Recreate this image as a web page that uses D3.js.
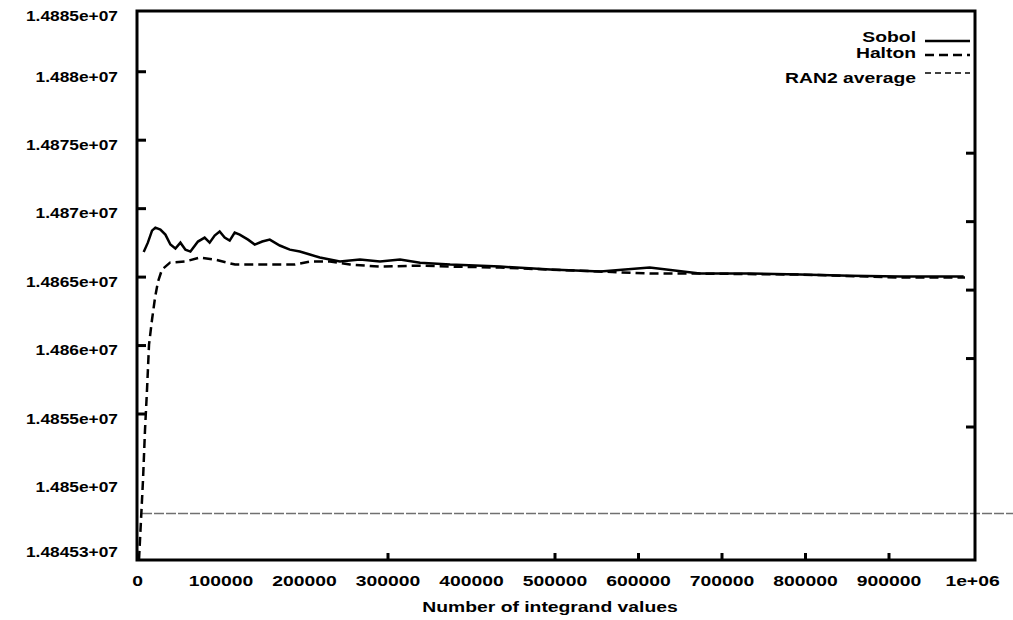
<!DOCTYPE html>
<html>
<head>
<meta charset="utf-8">
<script src="https://cdn.jsdelivr.net/npm/d3@7"></script>
<style>
  body { margin: 0; background: #fff; }
  text { font-family: "Liberation Sans", Arial, sans-serif; font-weight: bold; font-size: 14px; fill: #000; }
</style>
</head>
<body>
<svg id="chart" width="1013" height="620"></svg>
<script>
// values
const sobolX = [8000, 13000, 18000, 22000, 28000, 34000, 40000, 46000, 52000, 58000, 64000, 73000, 81000, 87000,
    93000, 99000, 105000, 111000, 117000, 123000, 133000, 141000, 150000, 159000, 171000, 183000, 195000, 207000,
    219000, 243000, 267000, 291000, 315000, 339000, 375000, 435000, 495000, 555000, 614000, 674000, 734000, 794000,
    854000, 914000, 990000];
const sobolY = [14866800, 14867480, 14868360, 14868580, 14868440, 14868070, 14867340, 14867050, 14867480, 14866970,
    14866830, 14867560, 14867850, 14867480, 14868000, 14868290, 14867850, 14867630, 14868220, 14868070, 14867700,
    14867340, 14867560, 14867700, 14867270, 14866970, 14866830, 14866610, 14866390, 14866100, 14866240, 14866100,
    14866240, 14866020, 14865880, 14865730, 14865510, 14865370, 14865660, 14865220, 14865220, 14865150, 14865070,
    14865000, 14865000];

const haltonX = [2400, 7200, 9600, 12000, 14400, 18000, 21600, 25100, 29900, 39500, 57500, 75400, 93400, 117400,
    147300, 189200, 207200, 231100, 255100, 291000, 338900, 374900, 434700, 494600, 554500, 614400, 674300, 794000,
    913800, 991600];
const haltonY = [14844310, 14850160, 14853820, 14856740, 14860030, 14861860, 14863460, 14864630, 14865510, 14866020,
    14866100, 14866390, 14866240, 14865880, 14865880, 14865880, 14866100, 14866100, 14865880, 14865730, 14865800,
    14865730, 14865660, 14865510, 14865370, 14865220, 14865220, 14865150, 14864930, 14864930];

const ran2X = [6000, 1050000];
const ran2Y = [14847700, 14847700];

const seriesNames = ["Sobol", "Halton", "RAN2 average"];

const yTickValues = [14885000, 14880000, 14875000, 14870000, 14865000, 14860000, 14855000, 14850000, 14845300];
const yTickLabels = ["1.4885e+07", "1.488e+07", "1.4875e+07", "1.487e+07", "1.4865e+07", "1.486e+07",
    "1.4855e+07", "1.485e+07", "1.48453+07"];
const yTickMarks = [14880000, 14875000, 14870000, 14865000, 14860000, 14855000];
const yRightMarks = [14875000, 14870000, 14865000, 14860000, 14855000];

const xTickValues = [0, 100000, 200000, 300000, 400000, 500000, 600000, 700000, 800000, 900000, 1000000];
const xTickLabels = ["0", "100000", "200000", "300000", "400000", "500000", "600000", "700000", "800000",
    "900000", "1e+06"];
const xTickMarks = [300000, 500000, 600000, 700000, 800000, 900000];

const xTitle = "Number of integrand values";

const frame = { left: 137, right: 975, top: 11, bottom: 560 };
const stretch = 1.38;   // the labels are drawn wide
const yStretch = 1.24;

const svg = d3.select("#chart");

const x = d3.scaleLinear().domain([0, 1000000]).range([frame.left, 972]);
const y = d3.scaleLinear().domain([14844300, 14884400]).range([frame.bottom, frame.top]).clamp(true);

// lines
const line = d3.line().x(d => x(d[0])).y(d => y(d[1]));

svg.append("path")
    .datum(d3.zip(ran2X, ran2Y))
    .attr("fill", "none")
    .attr("stroke", "#707070")
    .attr("stroke-width", 1.6)
    .attr("stroke-dasharray", "10,2")
    .attr("d", line);

svg.append("path")
    .datum(d3.zip(haltonX, haltonY))
    .attr("fill", "none")
    .attr("stroke", "#000")
    .attr("stroke-width", 2.5)
    .attr("stroke-dasharray", "9,5")
    .attr("d", line);

svg.append("path")
    .datum(d3.zip(sobolX, sobolY))
    .attr("fill", "none")
    .attr("stroke", "#000")
    .attr("stroke-width", 2.5)
    .attr("d", line);

// frame
svg.append("rect")
    .attr("x", frame.left).attr("y", frame.top)
    .attr("width", frame.right - frame.left).attr("height", frame.bottom - frame.top)
    .attr("fill", "none").attr("stroke", "#000").attr("stroke-width", 3);

// left tick marks
svg.append("g")
    .attr("transform", `translate(${frame.left},0)`)
    .call(d3.axisLeft(y).tickValues(yTickMarks).tickSize(-9).tickFormat(""))
    .call(g => g.select(".domain").remove())
    .selectAll("line").attr("stroke-width", 3);

// right tick marks
svg.append("g")
    .attr("transform", `translate(${frame.right},13)`)
    .call(d3.axisRight(y).tickValues(yRightMarks).tickSize(-9).tickFormat(""))
    .call(g => g.select(".domain").remove())
    .selectAll("line").attr("stroke-width", 3);

// bottom tick marks
svg.append("g")
    .attr("transform", `translate(0,${frame.bottom})`)
    .call(d3.axisBottom(x).tickValues(xTickMarks).tickSize(-7).tickFormat(""))
    .call(g => g.select(".domain").remove())
    .selectAll("line").attr("stroke-width", 3);

// y labels
svg.append("g")
    .attr("transform", `translate(${frame.left},0)`)
    .call(d3.axisLeft(y).tickValues(yTickValues).tickSize(0)
        .tickFormat((d, i) => yTickLabels[i]))
    .call(g => g.select(".domain").remove())
    .selectAll("text")
    .attr("x", -19 / yStretch)
    .attr("dy", "0.7em")
    .attr("transform", `scale(${yStretch},1)`)
    .style("font-size", "14px");

// x labels
svg.append("g")
    .attr("transform", `translate(0,${frame.bottom})`)
    .call(d3.axisBottom(x).tickValues(xTickValues).tickSize(0)
        .tickFormat((d, i) => xTickLabels[i]))
    .call(g => g.select(".domain").remove())
    .selectAll("text")
    .attr("y", 16)
    .attr("transform", `scale(${stretch},1)`)
    .style("font-size", "14px");

svg.selectAll(".tick text").attr("fill", "#000");

svg.append("text")
    .attr("transform", `translate(550,612) scale(${stretch},1)`)
    .attr("text-anchor", "middle")
    .text(xTitle);

// legend
const legendRows = [
    { dash: null, width: 2.5, ty: 42, ly: 41 },
    { dash: "9,5", width: 2.5, ty: 58, ly: 55 },
    { dash: "6,4", width: 1.6, ty: 83, ly: 73 }
];
const legend = svg.append("g");
legendRows.forEach((r, i) => {
    legend.append("text")
        .attr("transform", `translate(916,${r.ty}) scale(${stretch},1)`)
        .attr("text-anchor", "end")
        .text(seriesNames[i]);
    legend.append("line")
        .attr("x1", 925).attr("x2", 970)
        .attr("y1", r.ly).attr("y2", r.ly)
        .attr("stroke", "#000")
        .attr("stroke-width", r.width)
        .attr("stroke-dasharray", r.dash);
});
</script>
</body>
</html>
